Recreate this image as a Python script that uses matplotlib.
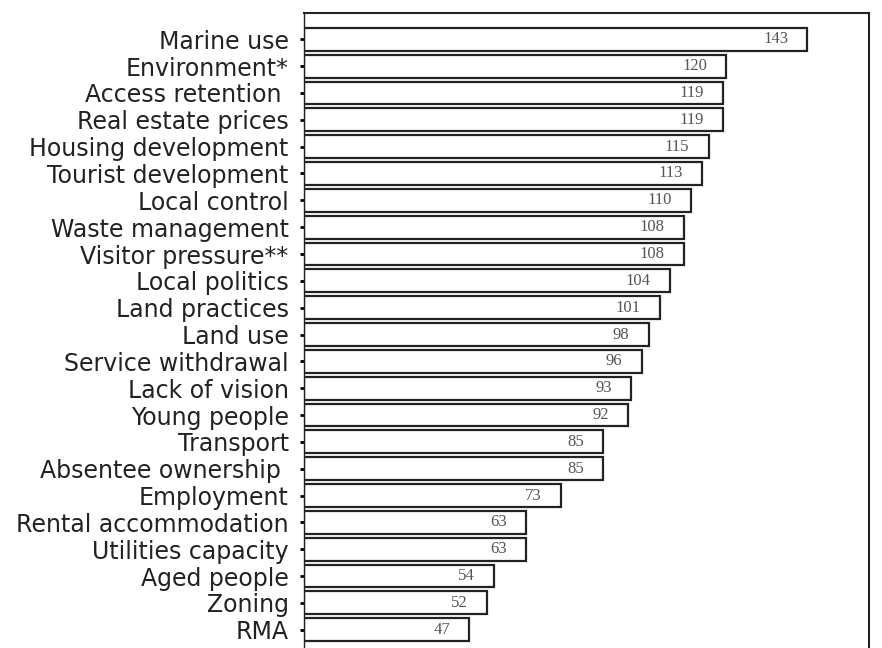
import numpy as np
import matplotlib.pyplot as plt

# Categories and counts (top to bottom)
categories = ['Marine use', 'Environment*', 'Access retention ', 'Real estate prices',
              'Housing development', 'Tourist development', 'Local control',
              'Waste management', 'Visitor pressure**', 'Local politics',
              'Land practices', 'Land use', 'Service withdrawal', 'Lack of vision',
              'Young people', 'Transport', 'Absentee ownership ', 'Employment',
              'Rental accommodation', 'Utilities capacity', 'Aged people',
              'Zoning', 'RMA']
counts = [143, 120, 119, 119, 115, 113, 110, 108, 108, 104, 101, 98, 96, 93,
          92, 85, 85, 73, 63, 63, 54, 52, 47]

fig = plt.figure(figsize=(8.82, 6.48), dpi=100)
ax = fig.add_axes([304 / 882, -22 / 648, 565 / 882, 657 / 648])

y = np.arange(len(categories))
ax.barh(y, counts, height=0.85, color='white', edgecolor='#222222', linewidth=1.6)

for yi, v in zip(y, counts):
    ax.text(v - 5.5, yi, str(v), ha='right', va='center', fontsize=12,
            family='Liberation Serif', color='#555555')

ax.set_yticks(y)
ax.set_yticklabels(categories, fontsize=17, family='DejaVu Sans', color='#222222')
ax.tick_params(axis='y', length=3, width=2, pad=8)
ax.set_xticks([])
ax.set_xlim(0, 160.5)
ax.set_ylim(len(categories) + 0.5, -0.98)

for s in ax.spines.values():
    s.set_linewidth(1.5)
    s.set_color('#222222')
ax.spines['left'].set_linewidth(1.0)

fig.savefig('out.png', dpi=100)
